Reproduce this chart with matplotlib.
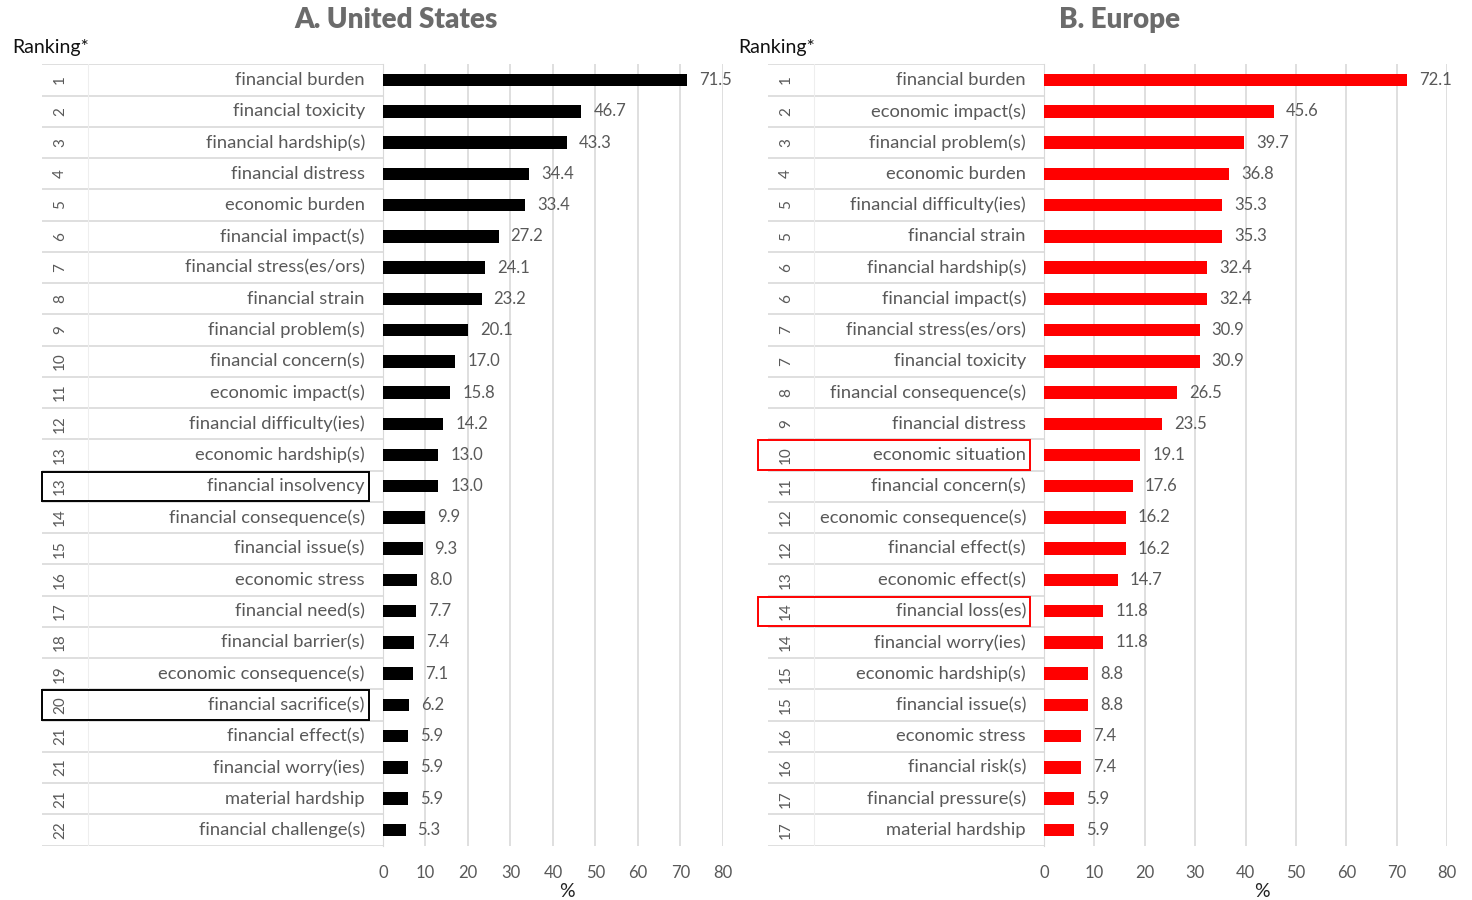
import matplotlib.pyplot as plt
from matplotlib.patches import Rectangle

plt.rcParams['font.family'] = ['Lato', 'DejaVu Sans']

# A. United States
us_rank = ["1", "2", "3", "4", "5", "6", "7", "8", "9", "10", "11", "12", "13",
           "13", "14", "15", "16", "17", "18", "19", "20", "21", "21", "21", "22"]
us_terms = ["financial burden", "financial toxicity", "financial hardship(s)",
            "financial distress", "economic burden", "financial impact(s)",
            "financial stress(es/ors)", "financial strain", "financial problem(s)",
            "financial concern(s)", "economic impact(s)", "financial difficulty(ies)",
            "economic hardship(s)", "financial insolvency", "financial consequence(s)",
            "financial issue(s)", "economic stress", "financial need(s)",
            "financial barrier(s)", "economic consequence(s)", "financial sacrifice(s)",
            "financial effect(s)", "financial worry(ies)", "material hardship",
            "financial challenge(s)"]
us_vals = [71.5, 46.7, 43.3, 34.4, 33.4, 27.2, 24.1, 23.2, 20.1, 17.0, 15.8, 14.2,
           13.0, 13.0, 9.9, 9.3, 8.0, 7.7, 7.4, 7.1, 6.2, 5.9, 5.9, 5.9, 5.3]
us_boxed = ["financial insolvency", "financial sacrifice(s)"]

# B. Europe
eu_rank = ["1", "2", "3", "4", "5", "5", "6", "6", "7", "7", "8", "9", "10",
           "11", "12", "12", "13", "14", "14", "15", "15", "16", "16", "17", "17"]
eu_terms = ["financial burden", "economic impact(s)", "financial problem(s)",
            "economic burden", "financial difficulty(ies)", "financial strain",
            "financial hardship(s)", "financial impact(s)", "financial stress(es/ors)",
            "financial toxicity", "financial consequence(s)", "financial distress",
            "economic situation", "financial concern(s)", "economic consequence(s)",
            "financial effect(s)", "economic effect(s)", "financial loss(es)",
            "financial worry(ies)", "economic hardship(s)", "financial issue(s)",
            "economic stress", "financial risk(s)", "financial pressure(s)",
            "material hardship"]
eu_vals = [72.1, 45.6, 39.7, 36.8, 35.3, 35.3, 32.4, 32.4, 30.9, 30.9, 26.5, 23.5,
           19.1, 17.6, 16.2, 16.2, 14.7, 11.8, 11.8, 8.8, 8.8, 7.4, 7.4, 5.9, 5.9]
eu_boxed = ["economic situation", "financial loss(es)"]

ticks = [0, 10, 20, 30, 40, 50, 60, 70, 80]
txt = '#595959'
grid = '#d9d9d9'

fig = plt.figure(figsize=(14.72, 9), dpi=100)
W, H = 1472, 900


def panel(tab_l, bar_l, bar_r, ranks, terms, vals, color, boxed, box_l, title, title_x):
    bot = 1 - 845.6 / H
    hgt = (845.6 - 64.4) / H
    ax = fig.add_axes([bar_l / W, bot, (bar_r - bar_l) / W, hgt])
    tab = fig.add_axes([tab_l / W, bot, (bar_l - tab_l) / W, hgt], sharey=ax)
    n = len(terms)
    y = list(range(n))
    ax.barh(y, vals, height=0.4, color=color, zorder=3)
    ax.set_ylim(n - 0.5, -0.5)
    ax.set_xlim(0, 80)
    ax.set_xticks(ticks)
    ax.tick_params(axis='x', length=0, colors=txt, labelsize=12, pad=14)
    ax.tick_params(axis='y', left=False, labelleft=False)
    ax.grid(axis='x', color=grid, lw=1.2, zorder=0)
    for s in ['top', 'right', 'bottom']:
        ax.spines[s].set_visible(False)
    ax.spines['left'].set_color(grid)
    ax.set_xlabel('%', fontsize=14, color='#222222')
    ax.xaxis.set_label_coords(0.54, -0.048)
    for yi, v in zip(y, vals):
        ax.text(v + 80 * 12 / (bar_r - bar_l), yi, f"{v:.1f}", va='center', ha='left',
                fontsize=12, color=txt, zorder=4)

    tab.set_xlim(0, 1)
    tab.axis('off')
    tw = bar_l - tab_l
    for yi in range(n + 1):
        tab.axhline(yi - 0.5, color=grid, lw=1.2)
    tab.axvline(46 / tw, color='#eeeeee', lw=0.8)
    for yi, (r, t) in enumerate(zip(ranks, terms)):
        tab.text(18 / tw, yi, r, rotation=90, ha='center', va='center', fontsize=11,
                 color=txt)
        tab.text(1 - 18 / tw, yi, t, ha='right', va='center', fontsize=13.2, color=txt)
        if t in boxed:
            bl = (box_l - tab_l) / tw
            tab.add_patch(Rectangle((bl, yi - 0.47), 1 - 14 / tw - bl, 0.94, fill=False,
                                    edgecolor=('black' if color == 'black' else 'red'),
                                    lw=1.4, clip_on=False, zorder=5))
    fig.text(tab_l / W - 0.02, 1 - 48 / H, 'Ranking*', fontsize=14, color='#111111',
             va='center', ha='left')
    fig.text(title_x / W, 1 - 20 / H, title, fontsize=20, fontweight='heavy', color='#6b6b6b',
             ha='center', va='center')


panel(42, 383, 723, us_rank, us_terms, us_vals, 'black', us_boxed, 42,
      'A. United States', 396)
panel(768, 1044, 1447, eu_rank, eu_terms, eu_vals, '#ff0000', eu_boxed, 758,
      'B. Europe', 1120)

fig.savefig('out.png', dpi=100)
